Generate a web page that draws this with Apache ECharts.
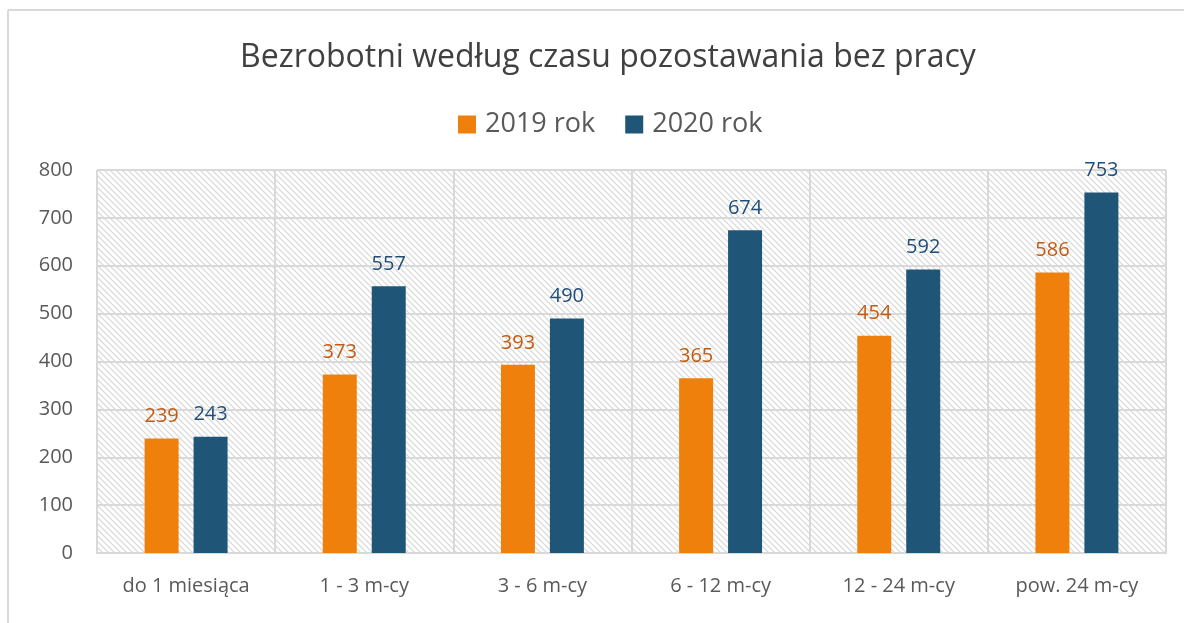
<!DOCTYPE html>
<html><head><meta charset="utf-8">
<script src="https://cdn.jsdelivr.net/npm/echarts@6/dist/echarts.min.js"></script>
<style>html,body{margin:0;padding:0;background:#fff}#c{width:1184px;height:623px}</style>
</head><body><div id="c"></div>
<script>
var categories = ['do 1 miesiąca', '1 - 3 m-cy', '3 - 6 m-cy', '6 - 12 m-cy', '12 - 24 m-cy', 'pow. 24 m-cy'];
var seriesNames = ['2019 rok', '2020 rok'];
var values2019 = [239, 373, 393, 365, 454, 586];
var values2020 = [243, 557, 490, 674, 592, 753];
var yTicks = [0, 100, 200, 300, 400, 500, 600, 700, 800];

var FONT = 'Open Sans';
var pc = document.createElement('canvas');
pc.width = 6; pc.height = 6;
var g = pc.getContext('2d');
g.fillStyle = '#ffffff'; g.fillRect(0,0,6,6);
g.strokeStyle = '#d6d6d6'; g.lineWidth = 1.2;
g.beginPath();
g.moveTo(-1,-1); g.lineTo(7,7);
g.moveTo(-4,2); g.lineTo(4,10);
g.moveTo(2,-4); g.lineTo(10,4);
g.stroke();

var chart = echarts.init(document.getElementById('c'), null, {renderer:'canvas'});
chart.setOption({
  animation:false,
  backgroundColor:'#ffffff',
  title:{text:'Bezrobotni według czasu pozostawania bez pracy', left:235, top:37,
    textStyle:{fontFamily:FONT, fontSize:32, fontWeight:'normal', color:'#404040'}},
  legend:{top:106, left:453, itemWidth:18, itemHeight:18, itemGap:30, icon:'rect',
    textStyle:{fontFamily:FONT, fontSize:27, color:'#595959', padding:[0,0,0,4]}, data:seriesNames},
  grid:{left:97, right:18, top:170, bottom:70, show:true, borderWidth:0,
    backgroundColor:{image:pc, repeat:'repeat'}},
  graphic:[
    {type:'line', shape:{x1:8, y1:10, x2:1184, y2:10}, style:{stroke:'#d9d9d9', lineWidth:2}},
    {type:'line', shape:{x1:8, y1:10, x2:8, y2:623}, style:{stroke:'#d9d9d9', lineWidth:2}}
  ],
  xAxis:{type:'category', data:categories,
    axisLine:{lineStyle:{color:'#d9d9d9', width:2}}, axisTick:{show:false},
    splitLine:{show:true, lineStyle:{color:'#d9d9d9', width:2}},
    axisLabel:{fontFamily:FONT, fontSize:20, color:'#595959', margin:23}},
  yAxis:{type:'value', min:yTicks[0], max:yTicks[yTicks.length-1], interval:100,
    axisLine:{show:false}, axisTick:{show:false},
    splitLine:{lineStyle:{color:'#d9d9d9', width:2}},
    axisLabel:{fontFamily:FONT, fontSize:20, color:'#595959', margin:24}},
  series:[
    {name:seriesNames[0], type:'bar', data:values2019, barWidth:34, barGap:'44%',
      itemStyle:{color:'#f0800c'},
      label:{show:true, position:'top', distance:12, fontFamily:FONT, fontSize:20, color:'#c55a11'}},
    {name:seriesNames[1], type:'bar', data:values2020, barWidth:34,
      itemStyle:{color:'#1f5678'},
      label:{show:true, position:'top', distance:12, fontFamily:FONT, fontSize:20, color:'#1f4e79'}}
  ]
});
</script></body></html>
